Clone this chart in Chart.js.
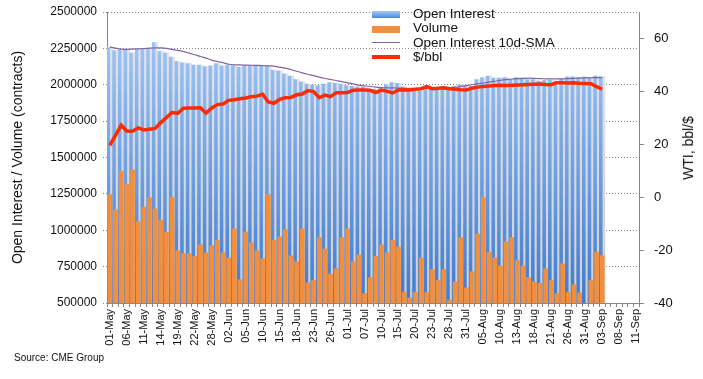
<!DOCTYPE html>
<html>
<head>
<meta charset="utf-8">
<script src="https://cdn.jsdelivr.net/npm/chart.js@4.4.0/dist/chart.umd.min.js"></script>
<style>
body { margin: 0; background: #fff; }
#wrap { position: relative; width: 703px; height: 379px; font-family: "Liberation Sans", Arial, sans-serif; color: #111; }
#chart { position: absolute; left: 0; top: 0; }
.lg-key { position: absolute; left: 372px; width: 28px; }
.lg-txt { position: absolute; left: 413px; font-size: 13.5px; line-height: 14px; white-space: nowrap; }
#ytitle2 { position: absolute; left: 688px; top: 148px; transform: translate(-50%, -50%) rotate(-90deg); font-size: 14px; white-space: nowrap; }
#source { position: absolute; left: 14px; top: 352px; font-size: 10px; white-space: nowrap; }
</style>
</head>
<body>
<div id="wrap">
  <canvas id="chart" width="703" height="379"></canvas>
  <div class="lg-key" style="top:11px;height:7px;background:linear-gradient(#a6cbfa,#4a86d8);"></div>
  <div class="lg-txt" style="top:7px;">Open Interest</div>
  <div class="lg-key" style="top:26px;height:7px;background:#f28e3c;"></div>
  <div class="lg-txt" style="top:21px;">Volume</div>
  <div class="lg-key" style="top:42px;height:1px;background:#8064a2;"></div>
  <div class="lg-txt" style="top:36px;">Open Interest 10d-SMA</div>
  <div class="lg-key" style="top:55px;height:4px;background:#ff2a00;"></div>
  <div class="lg-txt" style="top:50px;">$/bbl</div>
  <div id="ytitle2">WTI, bbl/$</div>
  <div id="source">Source: CME Group</div>
</div>
<script>
var dates = ['01-May','04-May','05-May','06-May','07-May','08-May','11-May','12-May','13-May','14-May',
  '15-May','18-May','19-May','20-May','21-May','22-May','26-May','27-May','28-May','29-May',
  '01-Jun','02-Jun','03-Jun','04-Jun','05-Jun','08-Jun','09-Jun','10-Jun','11-Jun','12-Jun',
  '15-Jun','16-Jun','17-Jun','18-Jun','19-Jun','22-Jun','23-Jun','24-Jun','25-Jun','26-Jun',
  '29-Jun','30-Jun','01-Jul','02-Jul','06-Jul','07-Jul','08-Jul','09-Jul','10-Jul','13-Jul',
  '14-Jul','15-Jul','16-Jul','17-Jul','20-Jul','21-Jul','22-Jul','23-Jul','24-Jul','27-Jul',
  '28-Jul','29-Jul','30-Jul','31-Jul','03-Aug','04-Aug','05-Aug','06-Aug','07-Aug','10-Aug',
  '11-Aug','12-Aug','13-Aug','14-Aug','17-Aug','18-Aug','19-Aug','20-Aug','21-Aug','24-Aug',
  '25-Aug','26-Aug','27-Aug','28-Aug','31-Aug','01-Sep','02-Sep','03-Sep','04-Sep','07-Sep',
  '08-Sep','09-Sep','10-Sep','11-Sep'];

var openInterest = [2255000,2235000,2240000,2240000,2220000,2245000,2245000,2250000,2290000,2230000,
  2220000,2190000,2160000,2150000,2145000,2135000,2135000,2125000,2130000,2145000,
  2130000,2135000,2130000,2120000,2130000,2130000,2128000,2128000,2128000,2100000,
  2095000,2075000,2060000,2035000,2020000,2005000,2000000,1995000,2005000,2015000,
  2010000,2005000,1995000,1990000,1985000,1985000,1965000,1970000,1975000,2000000,
  2015000,2010000,1985000,1975000,1970000,1955000,1965000,1980000,1980000,1985000,
  1980000,1990000,2000000,1990000,1990000,2035000,2050000,2060000,2045000,2045000,
  2050000,2030000,2050000,2045000,2035000,2035000,2025000,2030000,2030000,2025000,
  2040000,2055000,2055000,2050000,2055000,2050000,2060000,2055000];

var volume = [1245000,1140000,1405000,1315000,1415000,1060000,1160000,1225000,1145000,1070000,
  985000,1225000,860000,840000,840000,820000,900000,845000,895000,930000,
  845000,810000,1010000,660000,990000,915000,860000,805000,1245000,930000,
  955000,1005000,825000,785000,1010000,640000,655000,950000,870000,700000,
  735000,950000,1010000,785000,830000,565000,675000,820000,900000,845000,
  930000,885000,575000,535000,575000,810000,575000,730000,655000,730000,
  520000,645000,950000,605000,715000,975000,1225000,850000,810000,755000,
  920000,950000,795000,755000,675000,645000,635000,735000,655000,565000,
  770000,575000,625000,570000,null,655000,850000,825000];

var oiSma = [2260000,2252000,2245000,2243000,2245000,2247000,2249000,2252000,2254000,2253000,
  2250000,2243000,2236000,2229000,2217000,2206000,2194000,2183000,2169000,2160000,
  2151000,2141000,2137000,2136000,2135000,2134000,2133000,2132000,2130000,2128000,
  2121000,2114000,2105000,2093000,2082000,2072000,2063000,2052000,2043000,2036000,
  2029000,2022000,2013000,2006000,1998000,1993000,1988000,1984000,1981000,1979000,
  1978000,1977000,1976000,1975000,1974000,1973000,1973000,1974000,1976000,1978000,
  1980000,1983000,1988000,1994000,2000000,2006000,2012000,2018000,2024000,2030000,
  2035000,2039000,2042000,2044000,2045000,2044000,2042000,2041000,2040000,2040000,
  2041000,2042000,2044000,2046000,2047000,2048000,2049000,2050000];

var price = [19.6,23.4,27.2,25.0,24.9,26.2,25.4,25.7,26.0,28.2,
  30.1,32.0,31.7,33.6,33.7,33.7,33.8,31.8,33.7,35.0,
  35.2,36.6,36.8,37.2,37.5,38.0,38.2,38.9,36.0,35.5,
  37.0,37.6,37.7,38.7,39.0,40.3,39.9,37.6,38.6,38.0,
  39.5,39.5,39.6,40.4,40.5,40.5,40.4,39.5,40.5,40.0,
  39.4,40.5,40.6,40.5,40.8,41.0,41.8,41.0,41.2,41.4,
  41.0,40.8,40.6,40.5,41.2,41.6,41.8,42.0,42.2,42.3,
  42.2,42.3,42.4,42.5,42.6,42.7,42.8,42.6,42.5,43.3,
  43.3,43.2,43.3,43.1,43.0,42.9,41.8,40.8];

var leftTicks = { min: 500000, max: 2500000, step: 250000 };
var rightTicks = { min: -40, max: 70, step: 20 };

function blueFill(c) {
  var area = c.chart.chartArea;
  if (!area) return '#6a9ee8';
  var g = c.chart.ctx.createLinearGradient(0, area.top, 0, area.bottom);
  g.addColorStop(0, '#a8cdfb');
  g.addColorStop(1, '#3d7ad2');
  return g;
}

function greyFill(c) {
  var area = c.chart.chartArea;
  if (!area) return '#d9d9d9';
  var g = c.chart.ctx.createLinearGradient(0, area.top, 0, area.bottom);
  g.addColorStop(0, '#e6e6e6');
  g.addColorStop(1, '#cfcfcf');
  return g;
}

// keep the plot area where the reference has it
function fixWidth(w) {
  return function (s) { s.width = w; s.paddingTop = 0; s.paddingBottom = 0; };
}

Chart.defaults.font.family = '"Liberation Sans", Arial, sans-serif';
Chart.defaults.color = '#111';

var ctx = document.getElementById('chart').getContext('2d');
var myChart = new Chart(ctx, {
  data: {
    labels: dates,
    datasets: [
      {
        type: 'line',
        label: '$/bbl',
        data: price,
        yAxisID: 'y1',
        borderColor: '#ff2a00',
        borderWidth: 3.5,
        pointRadius: 0,
        tension: 0,
        order: 0
      },
      {
        type: 'line',
        label: 'Open Interest 10d-SMA',
        data: oiSma,
        yAxisID: 'y',
        borderColor: '#8064a2',
        borderWidth: 1.2,
        pointRadius: 0,
        tension: 0.3,
        order: 1
      },
      {
        type: 'bar',
        label: 'Volume',
        data: volume,
        yAxisID: 'y',
        backgroundColor: '#f28e3c',
        grouped: false,
        barThickness: 4,
        order: 2
      },
      {
        type: 'bar',
        label: 'Open Interest',
        data: openInterest,
        yAxisID: 'y',
        backgroundColor: blueFill,
        barThickness: 2.9,
        order: 3
      },
      {
        type: 'bar',
        label: 'shadow',
        data: openInterest,
        yAxisID: 'y',
        backgroundColor: greyFill,
        barThickness: 2.7,
        order: 4
      }
    ]
  },
  options: {
    responsive: false,
    animation: false,
    layout: { padding: { top: 12, left: 0, right: 0, bottom: 0 } },
    plugins: { legend: { display: false }, tooltip: { enabled: false } },
    scales: {
      x: {
        type: 'category',
        offset: true,
        afterFit: function (s) { s.height = 76; },
        grid: { display: true, drawOnChartArea: false, drawTicks: true, tickLength: 4, color: '#888' },
        border: { color: '#888' },
        ticks: {
          autoSkip: false, maxRotation: 90, minRotation: 90, padding: 2,
          font: { size: 11 }, color: '#111',
          callback: function (v, i) { return i % 3 === 0 ? this.getLabelForValue(v) : ''; }
        }
      },
      y: {
        position: 'left',
        z: 1,
        min: leftTicks.min, max: leftTicks.max,
        afterFit: fixWidth(107),
        grid: { color: '#8a8a8a', tickLength: 4, tickBorderDash: [1, 2] },
        border: { color: '#888', dash: [1, 2] },
        ticks: { stepSize: leftTicks.step, font: { size: 12 }, color: '#111', padding: 6,
          callback: function (v) { return String(v); } },
        title: { display: true, text: 'Open Interest / Volume (contracts)', font: { size: 14 },
          color: '#111', padding: { top: 10, bottom: 4 } }
      },
      y1: {
        position: 'right',
        min: rightTicks.min, max: rightTicks.max,
        afterFit: fixWidth(64),
        grid: { drawOnChartArea: false, tickLength: 5, color: '#888' },
        border: { color: '#888' },
        ticks: { stepSize: rightTicks.step, includeBounds: false, font: { size: 13 }, color: '#111', padding: 10 }
      }
    }
  }
});
</script>
</body>
</html>
